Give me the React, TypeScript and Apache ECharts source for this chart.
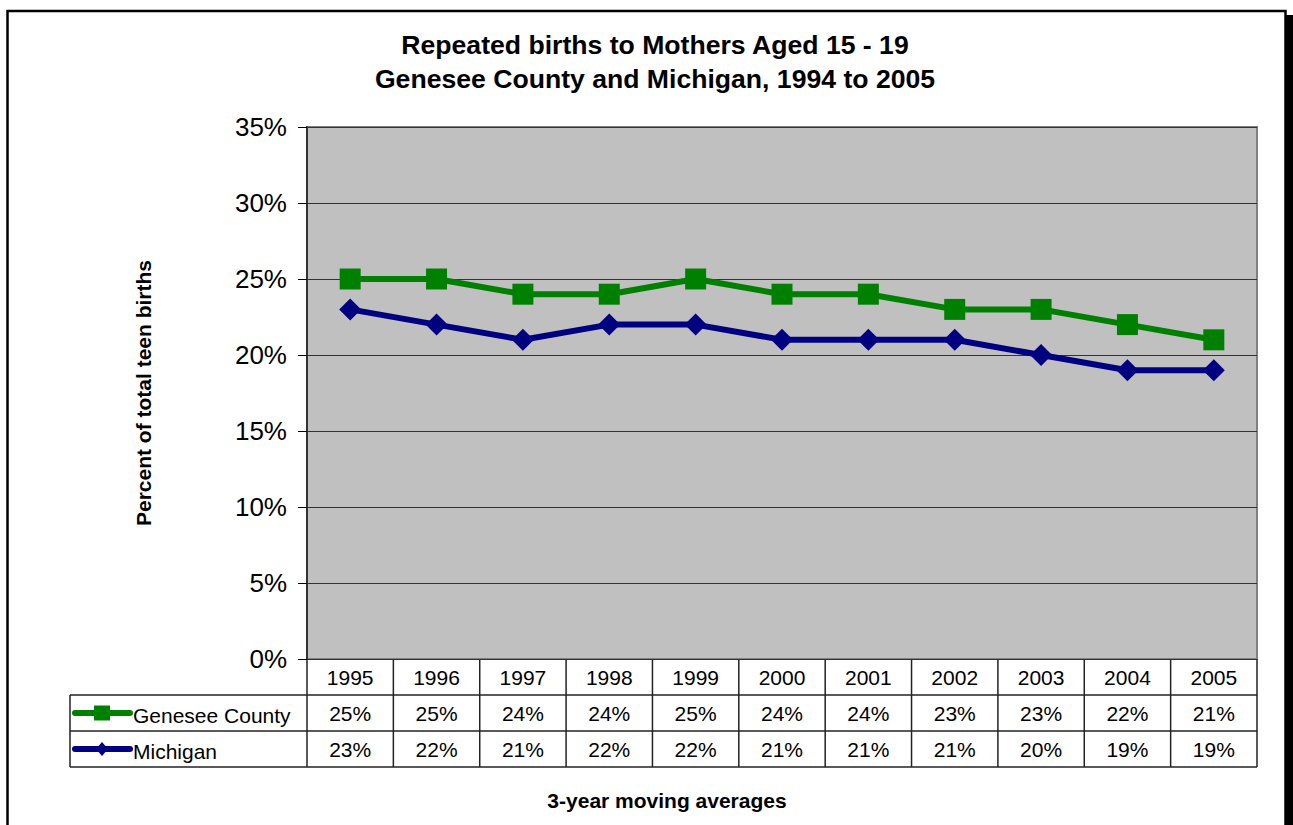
import React, { useEffect, useRef } from "react";
import * as echarts from "echarts";

const YEARS = ["1995", "1996", "1997", "1998", "1999", "2000", "2001", "2002", "2003", "2004", "2005"];
const GENESEE = [25, 25, 24, 24, 25, 24, 24, 23, 23, 22, 21];
const MICHIGAN = [23, 22, 21, 22, 22, 21, 21, 21, 20, 19, 19];
const SERIES_NAMES = ["Genesee County", "Michigan"];
const TITLE_LINES = ["Repeated births to Mothers Aged 15 - 19", "Genesee County and Michigan, 1994 to 2005"];
const Y_NAME = "Percent of total teen births";
const X_NAME = "3-year moving averages";

const FONT = "'Liberation Sans', Arial, sans-serif";
const GREEN = "#008000";
const NAVY = "#000080";

const GL = 307, GT = 127, GW = 950, GH = 532;
const TABLE_LEFT = 70;
const ROW_H = 36;

export default function App() {
  const ref = useRef<HTMLDivElement>(null);
  useEffect(() => {
    if (!ref.current) return;
    const chart = echarts.init(ref.current, undefined, { renderer: "svg" });
    const n = YEARS.length;
    const cw = GW / n;
    const gb = GT + GH;
    const graphic: any[] = [];
    // outer border + shadow
    graphic.push({ type: "rect", shape: { x: 7.5, y: 11, width: 1278, height: 830 }, style: { fill: "none", stroke: "#000", lineWidth: 2.5 }, silent: true });
    graphic.push({ type: "rect", shape: { x: 1285, y: 15, width: 8, height: 820 }, style: { fill: "#000" }, silent: true });
    // titles
    TITLE_LINES.forEach((t, i) => {
      graphic.push({ type: "text", x: 655, y: 45 + i * 34, style: { text: t, font: `bold 26.6px ${FONT}`, fill: "#000", textAlign: "center", textVerticalAlign: "middle" } });
    });
    graphic.push({ type: "text", x: 667, y: 800, style: { text: X_NAME, font: `bold 21px ${FONT}`, fill: "#000", textAlign: "center", textVerticalAlign: "middle" } });
    // table lines
    const lc = "#222";
    for (let r = 1; r <= 3; r++) {
      const y = gb + r * ROW_H;
      graphic.push({ type: "line", shape: { x1: TABLE_LEFT, y1: y, x2: GL + GW, y2: y }, style: { stroke: lc, lineWidth: 1.5 }, silent: true });
    }
    graphic.push({ type: "line", shape: { x1: TABLE_LEFT, y1: gb + ROW_H, x2: TABLE_LEFT, y2: gb + 3 * ROW_H }, style: { stroke: lc, lineWidth: 1.5 } });
    for (let i = 0; i <= n; i++) {
      const x = GL + i * cw;
      graphic.push({ type: "line", shape: { x1: x, y1: gb, x2: x, y2: gb + 3 * ROW_H }, style: { stroke: lc, lineWidth: 1.5 }, silent: true });
    }
    // table values
    const rows = [GENESEE, MICHIGAN];
    YEARS.forEach((y, i) => {
      const cx = GL + (i + 0.5) * cw;
      graphic.push({ type: "text", x: cx, y: gb + ROW_H / 2, style: { text: y, font: `21px ${FONT}`, fill: "#000", textAlign: "center", textVerticalAlign: "middle" } });
      rows.forEach((arr, r) => {
        graphic.push({ type: "text", x: cx, y: gb + ROW_H * (r + 1) + ROW_H / 2, style: { text: arr[i] + "%", font: `21px ${FONT}`, fill: "#000", textAlign: "center", textVerticalAlign: "middle" } });
      });
    });
    // legend keys
    const colors = [GREEN, NAVY];
    SERIES_NAMES.forEach((name, r) => {
      const cy = gb + ROW_H * (r + 1) + ROW_H / 2;
      graphic.push({ type: "line", shape: { x1: 75, y1: cy, x2: 130, y2: cy }, style: { stroke: colors[r], lineWidth: 6, lineCap: "round" } });
      if (r === 0) {
        graphic.push({ type: "rect", shape: { x: 94, y: cy - 7.5, width: 16, height: 15 }, style: { fill: GREEN } });
      } else {
        graphic.push({ type: "polygon", shape: { points: [[102, cy - 7], [108, cy], [102, cy + 7], [96, cy]] }, style: { fill: NAVY } });
      }
      graphic.push({ type: "text", x: 133, y: cy + 2, style: { text: name, font: `21px ${FONT}`, fill: "#000", textAlign: "left", textVerticalAlign: "middle" } });
    });

    chart.setOption({
      animation: false,
      backgroundColor: "#fff",
      grid: { left: GL, top: GT, width: GW, height: GH, show: true, backgroundColor: "#C0C0C0", borderColor: "#808080", borderWidth: 2 },
      xAxis: {
        type: "category",
        data: YEARS,
        boundaryGap: true,
        axisLine: { show: false },
        axisTick: { show: false },
        axisLabel: { show: false },
      },
      yAxis: {
        type: "value",
        min: 0,
        max: 35,
        interval: 5,
        name: Y_NAME,
        nameLocation: "middle",
        nameRotate: 90,
        nameGap: 153,
        nameTextStyle: { fontFamily: FONT, fontWeight: "bold", fontSize: 21, color: "#000" },
        axisLine: { show: true, lineStyle: { color: "#333", width: 2 } },
        axisTick: { show: true, length: 9, lineStyle: { color: "#000", width: 1 } },
        axisLabel: { formatter: "{value}%", fontFamily: FONT, fontSize: 26, color: "#000", margin: 20 },
        splitLine: { show: true, lineStyle: { color: "#333", width: 1 } },
      },
      series: [
        {
          name: SERIES_NAMES[0],
          type: "line",
          data: GENESEE,
          symbol: "rect",
          symbolSize: 21,
          itemStyle: { color: GREEN },
          lineStyle: { color: GREEN, width: 6 },
        },
        {
          name: SERIES_NAMES[1],
          type: "line",
          data: MICHIGAN,
          symbol: "diamond",
          symbolSize: 22,
          itemStyle: { color: NAVY },
          lineStyle: { color: NAVY, width: 6 },
        },
      ],
      graphic,
    });
    return () => chart.dispose();
  }, []);
  return <div ref={ref} style={{ position: "absolute", left: 0, top: 0, width: 1293, height: 825 }} />;
}
